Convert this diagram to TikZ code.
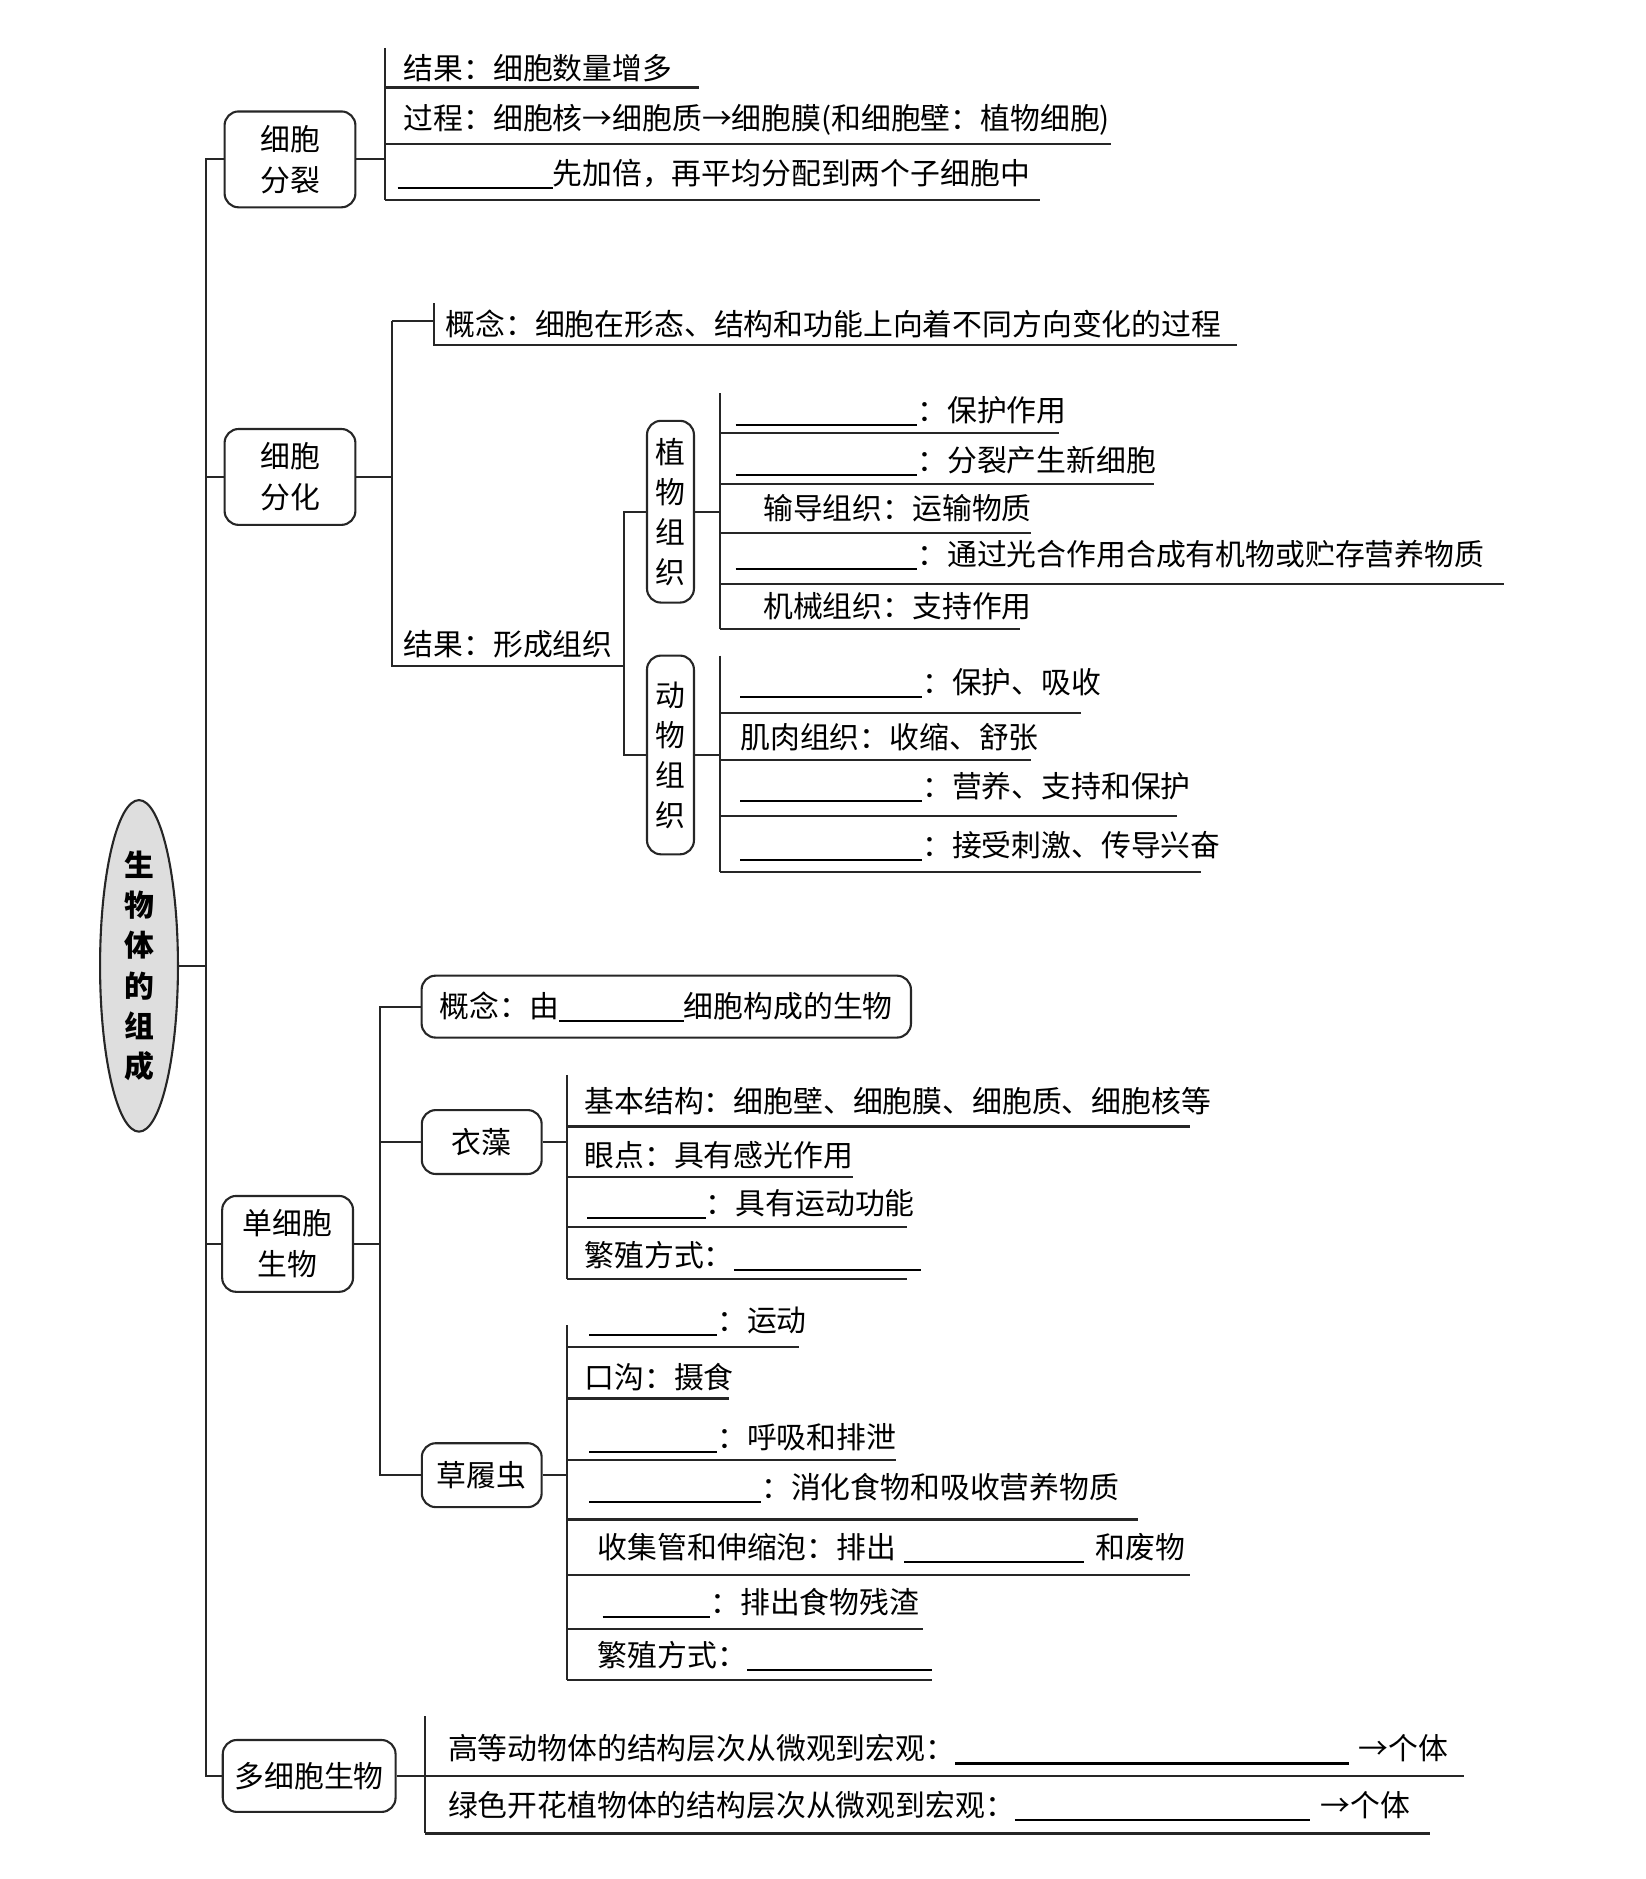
\documentclass[tikz,border=0pt]{standalone}
\usepackage{fontspec}
\setmainfont{Noto Sans CJK SC}
\usetikzlibrary{shapes.geometric}
\newcommand\gapline[1]{\rule[-1.3pt]{#1}{0.6pt}}

\begin{document}
\begin{tikzpicture}[x=0.12mm,y=-0.12mm,line width=0.6pt,draw=black!85,
 every node/.style={font=\fontsize{8.5}{11.6}\selectfont},
 box/.style={draw=black!85,rounded corners=1.4mm,align=center,inner sep=0pt,fill=white},
 vbox/.style={box,minimum width=4.7mm,font=\fontsize{8.5}{11.4}\selectfont},
 itm/.style={anchor=west,inner sep=0pt}]
\useasboundingbox (0,0) rectangle (1373,1568);
% root and trunk
\node[draw=black!85,ellipse,fill=black!13,minimum width=7.8mm,minimum height=33.2mm,inner sep=0pt,align=center,
 font=\fontsize{8.5}{11.4}\selectfont\bfseries] (root) at (116,806) {生\\物\\体\\的\\组\\成};
\node[box,minimum width=13.1mm,minimum height=9.6mm] (fl) at (242,133) {细胞\\分裂};
\node[box,minimum width=13.1mm,minimum height=9.6mm] (fh) at (242,398) {细胞\\分化};
\node[box,minimum width=13.1mm,minimum height=9.6mm] (dx) at (240,1038) {单细胞\\生物};
\node[box,minimum width=17.3mm,minimum height=7.2mm] (dd) at (258,1482) {多细胞生物};
\coordinate (tr) at (172,806);
\draw (root.east) -- (tr);
\draw (fl.west) -| (tr) |- (dd.west);
\draw (fh.west) -- (fh.west -| tr);
\draw (dx.west) -- (dx.west -| tr);

% cell division
\coordinate (k1) at (321,40);
\draw (fl.east) -- (fl.east -| k1);
\draw (k1) -- (321,167);
\node[itm] (fl1) at (336,57) {结果：细胞数量增多};
\node[itm] (fl2) at (336,100) {过程：细胞核→细胞质→细胞膜(和细胞壁：植物细胞)};
\node[itm] (fl3) at (331,145) {\gapline{15.5mm}先加倍，再平均分配到两个子细胞中};
\draw (321,73) -- (583,73) (321,120) -- (927,120) (321,167) -- (868,167);

% cell differentiation
\coordinate (k2) at (327,268);
\draw (fh.east) -- (fh.east -| k2);
\draw (k2) -- (327,556) -- (521,556);
\draw (k2) -- (362,268);
\draw (362,253) -- (362,288) -- (1032,288);
\node[itm] (fh1) at (371,270) {概念：细胞在形态、结构和功能上向着不同方向变化的过程};
\node[itm] (fh2) at (336,538) {结果：形成组织};
\node[vbox,minimum height=18.2mm] (zw) at (559.5,427) {植\\物\\组\\织};
\node[vbox,minimum height=19.9mm] (dw) at (559.5,630) {动\\物\\组\\织};
\coordinate (k3) at (521,556);
\draw (zw.west) -| (k3) |- (dw.west);

% plant tissues
\coordinate (k4) at (601,328);
\draw (zw.east) -- (zw.east -| k4);
\draw (k4) -- (601,525);
\node[itm] (zw1) at (613,343) {\gapline{18.2mm}：保护作用};
\node[itm] (zw2) at (613,385) {\gapline{18.2mm}：分裂产生新细胞};
\node[itm] (zw3) at (636,424) {输导组织：运输物质};
\node[itm] (zw4) at (613,463) {\gapline{18.2mm}：通过光合作用合成有机物或贮存营养物质};
\node[itm] (zw5) at (636,506) {机械组织：支持作用};
\draw (601,361) -- (884,361) (601,404) -- (963,404) (601,445) -- (860,445)
 (601,487) -- (1255,487) (601,525) -- (851,525);

% animal tissues
\coordinate (k5) at (601,547);
\draw (dw.east) -- (dw.east -| k5);
\draw (k5) -- (601,728);
\node[itm] (dw1) at (617,570) {\gapline{18.2mm}：保护、吸收};
\node[itm] (dw2) at (617,615) {肌肉组织：收缩、舒张};
\node[itm] (dw3) at (617,657) {\gapline{18.2mm}：营养、支持和保护};
\node[itm] (dw4) at (617,706) {\gapline{18.2mm}：接受刺激、传导兴奋};
\draw (601,595) -- (902,595) (601,634) -- (860,634) (601,681) -- (982,681) (601,728) -- (1002,728);

% unicellular
\coordinate (k6) at (317,840);
\draw (dx.east) -- (dx.east -| k6);
\node[box,minimum width=49mm,minimum height=6.2mm] (gn) at (556,840) {概念：由\gapline{12.5mm}细胞构成的生物};
\node[box,minimum width=12mm,minimum height=6.4mm] (yz) at (402,953) {衣藻};
\node[box,minimum width=12mm,minimum height=6.4mm] (clc) at (402,1231) {草履虫};
\draw (gn.west) -- (k6) |- (clc.west);
\draw (yz.west) -- (yz.west -| k6);

% chlamydomonas
\coordinate (k7) at (473,897);
\draw (yz.east) -- (yz.east -| k7);
\draw (k7) -- (473,1067);
\node[itm] (yz1) at (487,919) {基本结构：细胞壁、细胞膜、细胞质、细胞核等};
\node[itm] (yz2) at (487,964) {眼点：具有感光作用};
\node[itm] (yz3) at (489,1005) {\gapline{11.9mm}：具有运动功能};
\node[itm] (yz4) at (487,1048) {繁殖方式：\gapline{18.7mm}};
\draw (473,940) -- (993,940) (473,982) -- (712,982) (473,1024) -- (757,1024) (473,1067) -- (757,1067);

% paramecium
\coordinate (k8) at (473,1106);
\draw (clc.east) -- (clc.east -| k8);
\draw (k8) -- (473,1402);
\node[itm] (cl1) at (491,1103) {\gapline{12.8mm}：运动};
\node[itm] (cl2) at (487,1149) {口沟：摄食};
\node[itm] (cl3) at (491,1200) {\gapline{12.8mm}：呼吸和排泄};
\node[itm] (cl4) at (491,1242) {\gapline{17.2mm}：消化食物和吸收营养物质};
\node[itm] (cl5) at (498,1292) {收集管和伸缩泡：排出\hspace{0.8mm}\gapline{18mm}\hspace{1.2mm}和废物};
\node[itm] (cl6) at (502,1338) {\gapline{10.8mm}：排出食物残渣};
\node[itm] (cl7) at (498,1382) {繁殖方式：\gapline{18.5mm}};
\draw (473,1124) -- (667,1124) (473,1167) -- (608,1167) (473,1218) -- (748,1218) (473,1268) -- (950,1268)
 (473,1314) -- (993,1314) (473,1359) -- (770,1359) (473,1402) -- (778,1402);

% multicellular
\coordinate (k9) at (355,1432);
\draw (dd.east) -- (dd.east -| k9);
\draw (k9) -- (355,1530);
\node[itm] (dd1) at (373,1460) {高等动物体的结构层次从微观到宏观：\gapline{39.4mm}\hspace{1mm}→个体};
\node[itm] (dd2) at (373,1507) {绿色开花植物体的结构层次从微观到宏观：\gapline{29.6mm}\hspace{1mm}→个体};
\draw (355,1482) -- (1222,1482) (355,1530) -- (1193,1530);
\end{tikzpicture}
\end{document}
